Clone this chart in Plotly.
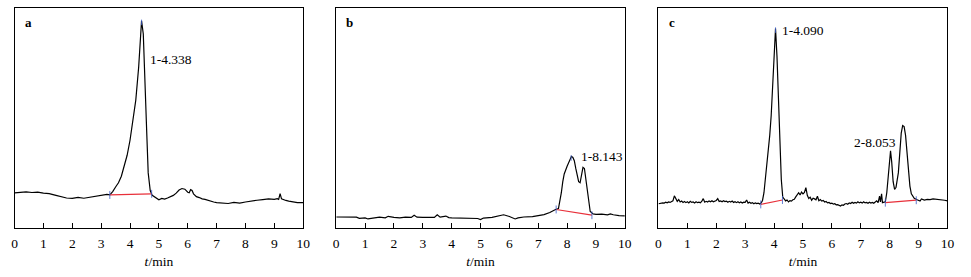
import plotly.graph_objects as go

# ---------------- data ----------------
a_t = [0, 0.2, 0.4, 0.6, 0.8, 1.0, 1.2, 1.4, 1.6, 1.8, 2.0, 2.2, 2.4, 2.6, 2.8, 3.0, 3.2, 3.3,
       3.4, 3.5, 3.6, 3.7, 3.8, 3.9, 4.0, 4.1, 4.2, 4.3, 4.35, 4.4, 4.46, 4.51, 4.58, 4.63, 4.7,
       4.77, 4.85, 4.9, 5.0, 5.1, 5.2, 5.3, 5.4, 5.5, 5.6, 5.7, 5.8, 5.9, 6.0, 6.05, 6.1, 6.15,
       6.2, 6.3, 6.4, 6.5, 6.6, 6.7, 6.8, 6.9, 7.0, 7.2, 7.4, 7.6, 7.8, 8.0, 8.2, 8.4, 8.6, 8.8,
       9.0, 9.1, 9.15, 9.2, 9.25, 9.3, 9.4, 9.5, 9.6, 9.7, 9.8, 10.0]
a_v = [15.9, 16.2, 16.4, 16.1, 16.3, 15.8, 15.6, 14.9, 14.3, 13.6, 13.4, 13.9, 13.5, 14.0, 14.5,
       14.9, 15.2, 15.0, 16.5, 18.6, 20.5, 23.5, 27.7, 33.0, 39.8, 48.0, 58.0, 73.0, 86.0, 94.0,
       88.0, 65.0, 43.0, 25.0, 17.0, 14.8, 14.0, 13.4, 12.8, 13.4, 13.1, 13.6, 14.2, 14.8, 15.8,
       17.2, 17.9, 17.6, 16.2, 16.0, 17.4, 17.0, 15.5, 14.2, 13.8, 13.2, 13.0, 12.5, 12.3, 11.8,
       11.5, 11.4, 11.1, 11.6, 11.3, 11.8, 12.3, 12.6, 12.9, 13.2, 13.0, 13.3, 13.0, 15.6, 13.2,
       12.9, 12.5, 12.2, 12.0, 11.6, 11.5, 11.5]

b_t = [0, 0.3, 0.5, 0.7, 0.8, 1.0, 1.1, 1.3, 1.5, 1.7, 1.8, 2.0, 2.2, 2.4, 2.6, 2.7, 2.8, 3.0,
       3.2, 3.4, 3.5, 3.6, 3.8, 3.9, 4.0, 4.3, 4.6, 4.9, 5.0, 5.1, 5.4, 5.6, 5.8, 6.0, 6.2, 6.3,
       6.5, 6.8, 7.0, 7.2, 7.4, 7.5, 7.6, 7.7, 7.75, 7.8, 7.85, 7.9, 8.0, 8.1, 8.15, 8.2, 8.25,
       8.3, 8.35, 8.4, 8.45, 8.5, 8.55, 8.6, 8.65, 8.7, 8.75, 8.8, 8.9, 9.0, 9.2, 9.4, 9.5, 9.6,
       9.8, 10.0]
b_v = [5.0, 5.0, 4.7, 4.9, 4.4, 4.6, 4.1, 4.6, 4.9, 4.6, 5.3, 4.8, 4.6, 4.9, 4.8, 5.8, 4.9, 4.8,
       4.9, 4.8, 6.0, 4.9, 5.4, 4.7, 4.6, 4.5, 4.4, 4.3, 3.8, 4.5, 4.8, 5.3, 6.0, 5.2, 4.1, 4.6,
       5.0, 5.2, 5.7, 6.1, 7.0, 7.8, 8.4, 8.8, 12.0, 16.0, 21.0, 24.5, 28.0, 31.5, 32.5, 32.0,
       30.5, 27.0, 23.5, 21.0, 20.5, 24.0, 27.5, 27.0, 22.0, 15.0, 10.0, 7.5, 6.4, 6.2, 6.3, 6.0,
       6.4, 6.0, 5.6, 5.5]

c_t = [0, 0.05, 0.1, 0.15, 0.2, 0.25, 0.3, 0.35, 0.4, 0.45, 0.5, 0.55, 0.6, 0.65, 0.7, 0.75,
       0.8, 0.85, 0.9, 0.95, 1.0, 1.05, 1.1, 1.15, 1.2, 1.25, 1.3, 1.35, 1.4, 1.45, 1.5, 1.55,
       1.6, 1.65, 1.7, 1.75, 1.8, 1.85, 1.9, 1.95, 2.0, 2.05, 2.1, 2.15, 2.2, 2.25, 2.3, 2.35,
       2.4, 2.45, 2.5, 2.55, 2.6, 2.65, 2.7, 2.75, 2.8, 2.85, 2.9, 2.95, 3.0, 3.05, 3.1, 3.15,
       3.2, 3.25, 3.3, 3.35, 3.4, 3.45, 3.5, 3.55, 3.6, 3.65, 3.7, 3.75, 3.8, 3.85, 3.9, 3.95,
       4.0, 4.05, 4.1, 4.15, 4.2, 4.25, 4.3, 4.35, 4.4, 4.45, 4.5, 4.55, 4.6, 4.65, 4.7, 4.75,
       4.8, 4.85, 4.9, 4.95, 5.0, 5.05, 5.1, 5.15, 5.2, 5.25, 5.3, 5.35, 5.4, 5.45, 5.5, 5.55,
       5.6, 5.65, 5.7, 5.75, 5.8, 5.85, 5.9, 5.95, 6.0, 6.05, 6.1, 6.15, 6.2, 6.25, 6.3, 6.35,
       6.4, 6.45, 6.5, 6.55, 6.6, 6.65, 6.7, 6.75, 6.8, 6.85, 6.9, 6.95, 7.0, 7.05, 7.1, 7.15,
       7.2, 7.25, 7.3, 7.35, 7.4, 7.45, 7.5, 7.55, 7.6, 7.65, 7.68, 7.72, 7.75, 7.8, 7.85, 7.9,
       7.95, 8.0, 8.03, 8.07, 8.12, 8.17, 8.22, 8.3, 8.35, 8.4, 8.45, 8.5, 8.55, 8.6, 8.65, 8.7,
       8.75, 8.85, 8.95, 9.05, 9.1, 9.15, 9.2, 9.3, 9.4, 9.5, 9.6, 9.7, 9.8, 9.9, 10.0]
c_v = [11.0, 11.2, 11.1, 11.4, 11.3, 11.7, 11.4, 11.8, 11.6, 12.0, 12.3, 14.6, 13.4, 12.1, 12.9,
       11.8, 12.2, 11.6, 12.0, 11.5, 11.9, 11.4, 12.1, 11.6, 11.8, 11.3, 11.9, 11.5, 11.7, 11.4,
       12.2, 13.3, 11.7, 12.1, 11.8, 12.3, 11.9, 12.4, 11.9, 12.2, 12.5, 13.3, 12.0, 12.3, 11.9,
       12.4, 12.0, 12.2, 11.7, 12.1, 11.8, 12.2, 11.6, 11.9, 11.5, 11.9, 11.4, 11.8, 11.3, 11.7,
       11.6, 12.7, 11.3, 11.7, 11.2, 11.5, 11.0, 11.4, 11.1, 11.3, 10.9, 11.3, 12.5, 16.0, 22.0,
       28.0, 35.0, 42.0, 51.0, 65.0, 80.0, 90.5, 78.0, 60.0, 42.0, 22.0, 14.0, 13.0, 12.3, 12.7,
       11.8, 12.4, 12.2, 12.8, 13.0, 14.1, 15.2, 16.0, 15.0, 16.3, 15.5, 16.1, 18.3, 14.8, 13.4,
       14.0, 12.6, 13.5, 13.2, 12.8, 14.4, 12.4, 12.9, 12.2, 12.5, 11.8, 12.0, 11.4, 11.6, 11.1,
       11.3, 10.8, 11.0, 10.5, 10.6, 10.1, 10.0, 10.5, 10.3, 10.9, 11.1, 10.8, 11.4, 11.1, 11.7,
       11.2, 11.6, 11.3, 11.9, 11.4, 11.7, 11.3, 11.9, 11.4, 11.6, 11.2, 11.7, 11.3, 11.6, 11.2,
       11.8, 12.3, 11.5, 14.5, 11.8, 15.5, 11.5, 11.8, 11.9, 16.0, 24.0, 32.0, 35.0, 30.0, 21.0,
       17.5, 18.5, 25.0, 34.0, 43.0, 46.5, 46.0, 42.0, 33.0, 25.0, 19.0, 15.5, 13.5, 12.8, 12.2,
       13.2, 12.8, 12.7, 13.0, 12.9, 13.2, 13.1, 12.9, 13.0, 12.6, 12.3]

# integration baselines: (t_start, v_start, t_end, v_end)
a_base = [(3.3, 15.0, 4.75, 15.5)]
b_base = [(7.62, 8.4, 8.86, 5.8)]
c_base = [(3.54, 10.7, 4.29, 12.7), (7.85, 11.5, 8.92, 12.6)]
# apex markers (t, v)
a_apex = [(4.4, 94.0)]
b_apex = [(8.14, 32.5)]
c_apex = [(4.05, 90.5)]

panel_letters = ["a", "b", "c"]
peak_labels = [
    [("1-4.338", 4.64, 76.5)],
    [("1-8.143", 8.41, 32.3)],
    [("1-4.090", 4.20, 89.5), ("2-8.053", 6.70, 39.0)],
]
x_ticks = list(range(0, 11))
x_title = "<i>t</i>/min"

# ---------------- figure ----------------
W, H = 971, 277
doms = [(11.7, 303.3), (336.7, 628.3), (662.3, 954.3)]
y_dom = ((277 - 228) / H, (277 - 7.5) / H)
FONT = "Liberation Serif"

series = [(a_t, a_v, a_base, a_apex), (b_t, b_v, b_base, b_apex), (c_t, c_v, c_base, c_apex)]

fig = go.Figure()
for i, (t, v, base, apex) in enumerate(series):
    xa = "x" if i == 0 else f"x{i+1}"
    ya = "y" if i == 0 else f"y{i+1}"
    fig.add_trace(go.Scatter(x=t, y=v, mode="lines", xaxis=xa, yaxis=ya,
                             line=dict(color="black", width=1.2), showlegend=False))
    for (t0, v0, t1, v1) in base:
        fig.add_trace(go.Scatter(x=[t0, t1], y=[v0, v1], mode="lines", xaxis=xa, yaxis=ya,
                                 line=dict(color="#e8303a", width=1.2), showlegend=False))
        for (tt, vv) in [(t0, v0), (t1, v1)]:
            fig.add_trace(go.Scatter(x=[tt, tt], y=[vv - 1.8, vv + 1.8], mode="lines",
                                     xaxis=xa, yaxis=ya,
                                     line=dict(color="#3a5cc8", width=0.8), showlegend=False))
    for (tt, vv) in apex:
        fig.add_trace(go.Scatter(x=[tt, tt], y=[vv - 2, vv + 0.5], mode="lines",
                                 xaxis=xa, yaxis=ya,
                                 line=dict(color="#3a5cc8", width=0.8), showlegend=False))

    x0, x1 = doms[i]
    axis_common = dict(showline=True, linecolor="black", linewidth=1, mirror=True,
                       showgrid=False, zeroline=False)
    fig.layout[("xaxis" if i == 0 else f"xaxis{i+1}")] = dict(
        domain=[x0 / W, x1 / W], anchor=ya, range=[0, 10],
        tickvals=x_ticks, ticktext=[str(k) for k in x_ticks],
        ticks="inside", ticklen=5, tickcolor="black", tickwidth=1,
        ticklabelstandoff=3,
        tickfont=dict(family=FONT, size=13.5, color="black"),
        title=dict(text=x_title, font=dict(family=FONT, size=13.5, color="black"), standoff=6),
        **axis_common)
    fig.layout[("yaxis" if i == 0 else f"yaxis{i+1}")] = dict(
        domain=list(y_dom), anchor=xa, range=[0, 100],
        showticklabels=False, ticks="", **axis_common)

    fig.add_annotation(x=0.28, y=93.3, xref=xa, yref=ya, text=f"<b>{panel_letters[i]}</b>",
                       showarrow=False, xanchor="left", yanchor="middle",
                       font=dict(family=FONT, size=13, color="black"))
    for (txt, lx, ly) in peak_labels[i]:
        fig.add_annotation(x=lx, y=ly, xref=xa, yref=ya, text=txt, showarrow=False,
                           xanchor="left", yanchor="middle",
                           font=dict(family=FONT, size=13.5, color="black"))

fig.update_layout(width=W, height=H, margin=dict(l=0, r=0, t=0, b=0),
                  paper_bgcolor="white", plot_bgcolor="white")
fig.write_html("out.html")
